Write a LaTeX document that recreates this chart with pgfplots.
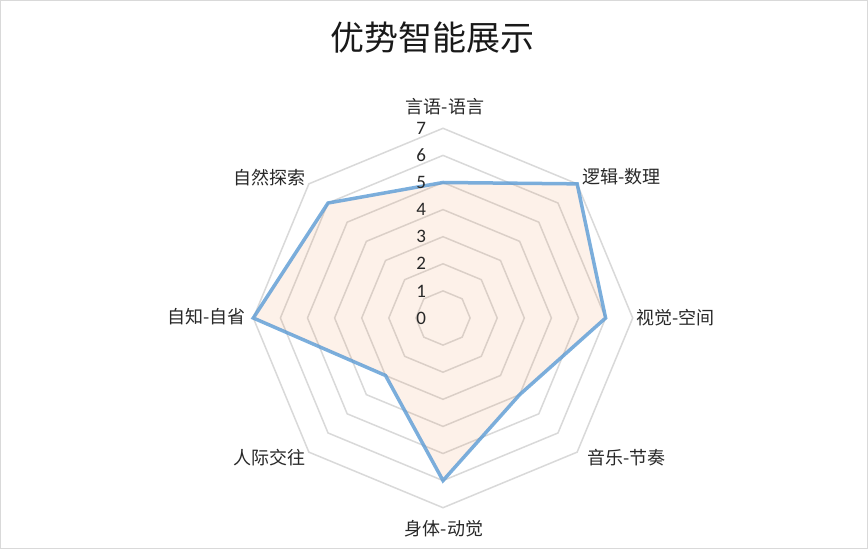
\documentclass[border=0pt]{standalone}
\usepackage{pgfplots}
\pgfplotsset{compat=1.18}
\usepackage{fontspec}
\setmainfont{Noto Sans CJK SC}
\newfontfamily\numfont{Carlito}
\definecolor{gridgray}{RGB}{217,217,217}
\definecolor{accblue}{RGB}{91,155,213}
\definecolor{accorange}{RGB}{237,125,49}
\definecolor{labtxt}{RGB}{40,40,40}
\pgfdeclareradialshading{bgshade}{\pgfpoint{0bp}{0bp}}{color(0bp)=(white); color(35bp)=(white); color(70bp)=(black!6)}
\begin{document}
\begin{tikzpicture}
\useasboundingbox (0,0) rectangle (868bp,549bp);
\shade[shading=bgshade] (0,0) rectangle (868bp,549bp);
\draw[gridgray, line width=1bp] (0.5bp,0.5bp) rectangle (867.5bp,548.5bp);
\begin{axis}[
  at={(443bp,231bp)}, anchor=origin,
  x=27.1bp, y=27.1bp,
  xmin=-7.2, xmax=7.2, ymin=-7.2, ymax=7.2,
  hide axis, clip=false,
]
% octagon grid rings
\pgfplotsinvokeforeach{1,...,7}{
  \addplot[data cs=polar, gridgray, line width=1.5bp, mark=none]
    coordinates {(90,#1) (45,#1) (0,#1) (-45,#1) (-90,#1) (-135,#1) (180,#1) (135,#1)} -- cycle;
}
% series
\addplot[data cs=polar, mark=none, fill=accorange, fill opacity=0.1,
  draw=accblue, draw opacity=0.8, line width=3.5bp]
  coordinates {(90,5) (45,7) (0,6) (-45,4) (-90,6) (-135,3) (180,7) (135,6)} -- cycle;
% radial tick labels
\pgfplotsinvokeforeach{0,...,7}{
  \node[anchor=east, inner sep=0pt, text=labtxt, font=\numfont\fontsize{19bp}{19bp}\selectfont]
    at (axis cs:-0.62,#1) {#1};
}
\end{axis}
\begin{scope}[every node/.style={inner sep=0pt, text=labtxt, font=\fontsize{18bp}{20bp}\selectfont}]
\node[anchor=center] at (445bp,442bp) {言语-语言};
\node[anchor=west] at (582bp,372bp) {逻辑-数理};
\node[anchor=west] at (636bp,231bp) {视觉-空间};
\node[anchor=west] at (587bp,91bp) {音乐-节奏};
\node[anchor=center] at (444bp,20bp) {身体-动觉};
\node[anchor=east] at (306bp,91bp) {人际交往};
\node[anchor=east] at (246bp,232bp) {自知-自省};
\node[anchor=east] at (306bp,371bp) {自然探索};
\end{scope}
\node[inner sep=0pt, text=black!90, font=\fontsize{34bp}{36bp}\selectfont] at (432bp,511bp) {优势智能展示};
\end{tikzpicture}
\end{document}
